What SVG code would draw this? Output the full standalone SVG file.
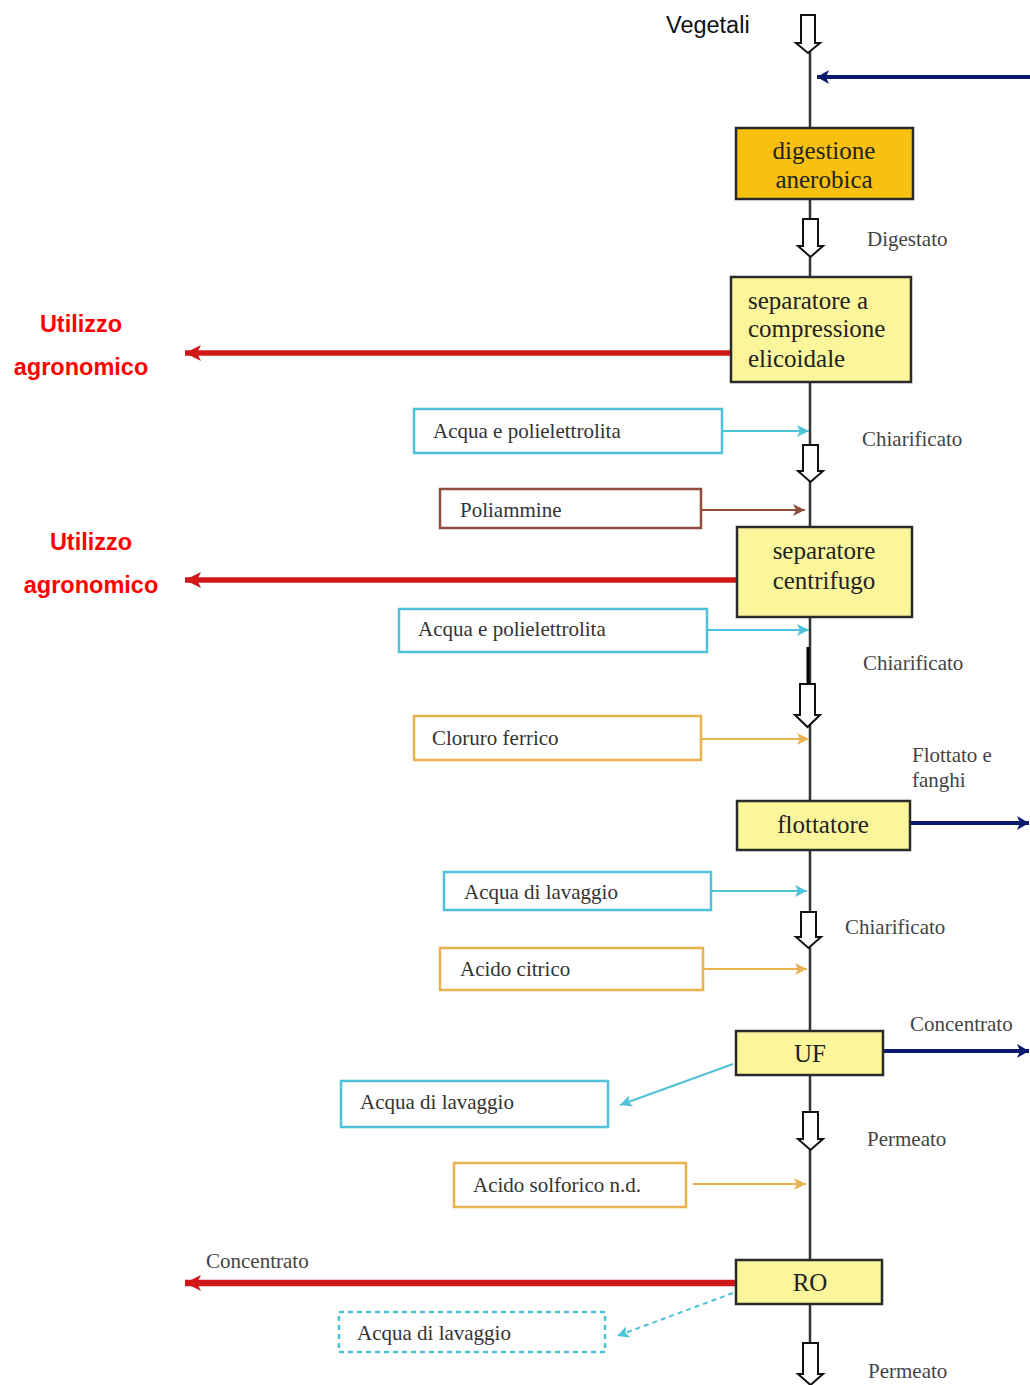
<svg xmlns="http://www.w3.org/2000/svg" width="1030" height="1385" viewBox="0 0 1030 1385">
<style>
.proc{stroke:#2a2a2a;stroke-width:2.5}
.y1{fill:#F8C10F}
.y2{fill:#FBF69B}
.pt{font-family:"Liberation Serif",serif;font-size:25px;fill:#222}
.it{font-family:"Liberation Serif",serif;font-size:21px;fill:#333}
.lb{font-family:"Liberation Serif",serif;font-size:21px;fill:#444}
.ag{font-family:"Liberation Sans",Arial,sans-serif;font-size:23.5px;font-weight:bold;fill:#FF0000;text-anchor:middle}
.inb{fill:#fff;stroke-width:2.5}
.cy{stroke:#4EC2D8}
.br{stroke:#8E4E3E}
.or{stroke:#E9B24E}
.hol{fill:#fff;stroke:#111;stroke-width:2}
.main{stroke:#333;stroke-width:2.5;fill:none}
</style>
<defs>
<marker id="mcy" markerUnits="userSpaceOnUse" markerWidth="14" markerHeight="12" refX="12" refY="6" orient="auto"><path d="M0,0 L12,6 L0,12 L3,6 z" fill="#4EC2D8"/></marker>
<marker id="mbr" markerUnits="userSpaceOnUse" markerWidth="14" markerHeight="12" refX="12" refY="6" orient="auto"><path d="M0,0 L12,6 L0,12 L3,6 z" fill="#8E4E3E"/></marker>
<marker id="mor" markerUnits="userSpaceOnUse" markerWidth="14" markerHeight="12" refX="12" refY="6" orient="auto"><path d="M0,0 L12,6 L0,12 L3,6 z" fill="#E9B24E"/></marker>
<marker id="mnv" markerUnits="userSpaceOnUse" markerWidth="14" markerHeight="14" refX="12" refY="7" orient="auto"><path d="M0,0 L12,7 L0,14 L3,7 z" fill="#0A1A6E"/></marker>
<marker id="mrd" markerUnits="userSpaceOnUse" markerWidth="18" markerHeight="16" refX="16" refY="8" orient="auto"><path d="M0,0 L16,8 L0,16 L4,8 z" fill="#D01818"/></marker>
</defs>

<g id="connectors">
<path class="main" d="M810,50 V1345"/>
<path d="M808,647 V684" stroke="#000" stroke-width="3"/>
<line x1="1030" y1="77" x2="817" y2="77" stroke="#0A1A6E" stroke-width="4" marker-end="url(#mnv)"/>
<line x1="910" y1="823" x2="1029" y2="823" stroke="#0A1A6E" stroke-width="4" marker-end="url(#mnv)"/>
<line x1="883" y1="1051" x2="1029" y2="1051" stroke="#0A1A6E" stroke-width="4" marker-end="url(#mnv)"/>
<line x1="731" y1="353" x2="185" y2="353" stroke="#D01818" stroke-width="5.5" marker-end="url(#mrd)"/>
<line x1="737" y1="580" x2="185" y2="580" stroke="#D01818" stroke-width="5.5" marker-end="url(#mrd)"/>
<line x1="736" y1="1283" x2="185" y2="1283" stroke="#D01818" stroke-width="6.5" marker-end="url(#mrd)"/>
<line x1="722" y1="431" x2="809" y2="431" class="cy" stroke-width="2" marker-end="url(#mcy)"/>
<line x1="701" y1="510" x2="805" y2="510" class="br" stroke-width="2" marker-end="url(#mbr)"/>
<line x1="707" y1="630" x2="809" y2="630" class="cy" stroke-width="2" marker-end="url(#mcy)"/>
<line x1="701" y1="739" x2="809" y2="739" class="or" stroke-width="2" marker-end="url(#mor)"/>
<line x1="711" y1="891" x2="807" y2="891" class="cy" stroke-width="2" marker-end="url(#mcy)"/>
<line x1="703" y1="969" x2="807" y2="969" class="or" stroke-width="2" marker-end="url(#mor)"/>
<line x1="733" y1="1064" x2="620" y2="1105" class="cy" stroke-width="2" marker-end="url(#mcy)"/>
<line x1="693" y1="1184" x2="806" y2="1184" class="or" stroke-width="2" marker-end="url(#mor)"/>
<line x1="733" y1="1293" x2="617" y2="1336" class="cy" stroke-width="2" stroke-dasharray="5,4" marker-end="url(#mcy)"/>
<path class="hol" d="M801,15 H815 V43 H820 L808,53 L796,43 H801 Z"/>
<path class="hol" d="M803,219 H818 V246 H823 L810.5,257 L798,246 H803 Z"/>
<path class="hol" d="M803,445 H818 V471 H823 L810.5,482 L798,471 H803 Z"/>
<path class="hol" d="M800,684 H815 V715 H820 L807.5,727 L795,715 H800 Z"/>
<path class="hol" d="M801,912 H816 V937 H821 L808.5,948 L796,937 H801 Z"/>
<path class="hol" d="M803,1112 H818 V1139 H823 L810.5,1150 L798,1139 H803 Z"/>
<path class="hol" d="M803,1343 H818 V1374 H823 L810.5,1385 L798,1374 H803 Z"/>
</g>

<g id="digestione"><rect class="proc y1" x="736" y="128" width="177" height="71"/>
<text class="pt" x="824" y="159" text-anchor="middle">digestione</text><text class="pt" x="824" y="188" text-anchor="middle">anerobica</text></g>
<g id="sep-elicoidale"><rect class="proc y2" x="731" y="277" width="180" height="105"/>
<text class="pt" x="748" y="309">separatore a</text><text class="pt" x="748" y="337">compressione</text><text class="pt" x="748" y="367">elicoidale</text></g>
<g id="sep-centrifugo"><rect class="proc y2" x="737" y="527" width="175" height="90"/>
<text class="pt" x="824" y="559" text-anchor="middle">separatore</text><text class="pt" x="824" y="589" text-anchor="middle">centrifugo</text></g>
<g id="flottatore"><rect class="proc y2" x="737" y="801" width="173" height="49"/>
<text class="pt" x="823" y="833" text-anchor="middle">flottatore</text></g>
<g id="UF"><rect class="proc y2" x="736" y="1031" width="147" height="44"/>
<text class="pt" x="810" y="1062" text-anchor="middle">UF</text></g>
<g id="RO"><rect class="proc y2" x="736" y="1260" width="146" height="44"/>
<text class="pt" x="810" y="1291" text-anchor="middle">RO</text></g>

<g id="in-acqua-poli-1"><rect class="inb cy" x="414" y="409" width="308" height="44"/><text class="it" x="433" y="438">Acqua e polielettrolita</text></g>
<g id="in-poliammine"><rect class="inb br" x="440" y="489" width="261" height="39"/><text class="it" x="460" y="517">Poliammine</text></g>
<g id="in-acqua-poli-2"><rect class="inb cy" x="399" y="609" width="308" height="43"/><text class="it" x="418" y="636">Acqua e polielettrolita</text></g>
<g id="in-cloruro"><rect class="inb or" x="414" y="716" width="287" height="44"/><text class="it" x="432" y="745">Cloruro ferrico</text></g>
<g id="in-acqua-lav-1"><rect class="inb cy" x="444" y="872" width="267" height="38"/><text class="it" x="464" y="899">Acqua di lavaggio</text></g>
<g id="in-citrico"><rect class="inb or" x="440" y="948" width="263" height="42"/><text class="it" x="460" y="976">Acido citrico</text></g>
<g id="out-acqua-lav-2"><rect class="inb cy" x="341" y="1081" width="267" height="46"/><text class="it" x="360" y="1109">Acqua di lavaggio</text></g>
<g id="in-solforico"><rect class="inb or" x="454" y="1163" width="232" height="44"/><text class="it" x="473" y="1192">Acido solforico n.d.</text></g>
<g id="out-acqua-lav-3"><rect class="inb cy" x="339" y="1312" width="266" height="40" stroke-dasharray="5,4"/><text class="it" x="357" y="1340">Acqua di lavaggio</text></g>

<g id="labels">
<text x="666" y="33" font-family="Liberation Sans,Arial,sans-serif" font-size="23.5" fill="#111">Vegetali</text>
<text class="lb" x="867" y="246">Digestato</text>
<text class="lb" x="862" y="446">Chiarificato</text>
<text class="lb" x="863" y="670">Chiarificato</text>
<text class="lb" x="912" y="762">Flottato e</text>
<text class="lb" x="912" y="787">fanghi</text>
<text class="lb" x="845" y="934">Chiarificato</text>
<text class="lb" x="910" y="1031">Concentrato</text>
<text class="lb" x="867" y="1146">Permeato</text>
<text class="lb" x="206" y="1268">Concentrato</text>
<text class="lb" x="868" y="1378">Permeato</text>
<text class="ag" x="81" y="332">Utilizzo</text>
<text class="ag" x="81" y="375">agronomico</text>
<text class="ag" x="91" y="550">Utilizzo</text>
<text class="ag" x="91" y="593">agronomico</text>
</g>
</svg>
